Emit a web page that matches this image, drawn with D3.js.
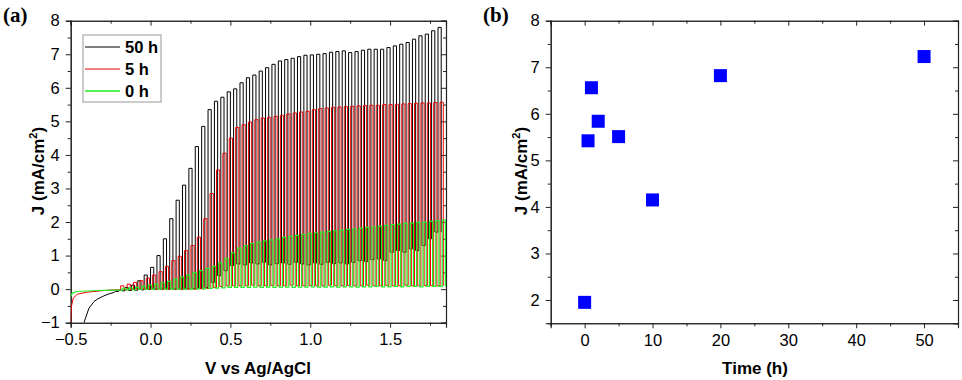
<!DOCTYPE html>
<html>
<head>
<meta charset="utf-8">
<script src="https://cdn.jsdelivr.net/npm/d3@7"></script>
<style>
  body { margin: 0; background: #fff; }
  svg { display: block; font-family: "Liberation Sans", Arial, sans-serif; }
  .tick text { font-size: 16.5px; fill: #000; }
  .domain, .tick line { stroke: #222; }
</style>
</head>
<body>
<svg id="chart" width="962" height="380"></svg>
<script>
// ---- panel (a): chopped-light J-V, values read at each chop ----
const chopV = [-0.22,-0.18,-0.14,-0.10,-0.06,-0.02,0.02,0.06,0.10,0.14,
  0.18,0.22,0.26,0.30,0.34,0.38,0.42,0.46,0.50,0.54,
  0.58,0.62,0.66,0.70,0.74,0.78,0.82,0.86,0.90,0.94,
  0.98,1.02,1.06,1.10,1.14,1.18,1.22,1.26,1.30,1.34,
  1.38,1.42,1.46,1.50,1.54,1.58,1.62,1.66,1.70,1.74,1.78];

const light50 = [-0.03,0.05,0.12,0.25,0.42,0.65,1.0,1.5,2.1,2.65,
  3.1,3.6,4.25,4.85,5.35,5.6,5.72,5.88,5.97,6.15,
  6.3,6.38,6.5,6.6,6.7,6.8,6.84,6.88,6.93,6.97,
  6.98,7.0,7.02,7.06,7.08,7.1,7.05,7.08,7.12,7.15,
  7.15,7.15,7.2,7.25,7.3,7.35,7.45,7.55,7.6,7.7,7.8];
const dark50 = [-0.07,-0.05,-0.04,-0.03,-0.02,-0.01,0,0,0,0,
  0,0.01,0.01,0.02,0.05,0.2,0.4,0.55,0.7,0.75,
  0.72,0.78,0.75,0.8,0.72,0.76,0.78,0.74,0.8,0.75,
  0.72,0.78,0.74,0.8,0.76,0.78,0.75,0.8,0.85,0.82,
  0.88,0.9,0.85,1.1,1.15,1.1,1.2,1.15,1.3,1.5,1.7];

const light5 = [0.1,0.15,0.2,0.25,0.33,0.42,0.52,0.68,0.85,0.98,
  1.15,1.3,1.55,2.1,2.85,3.55,4.05,4.5,4.82,4.9,
  4.98,5.05,5.1,5.12,5.15,5.18,5.22,5.25,5.28,5.3,
  5.35,5.38,5.4,5.42,5.43,5.44,5.45,5.46,5.47,5.48,
  5.48,5.5,5.5,5.51,5.52,5.53,5.54,5.55,5.55,5.56,5.57];
const dark5 = [-0.02,-0.01,-0.01,0,0,0,0,0,0,0,
  0,0,0,0.01,0.02,0.05,0.08,0.1,0.1,0.1,
  0.1,0.12,0.1,0.1,0.11,0.1,0.1,0.12,0.1,0.1,
  0.11,0.1,0.1,0.12,0.1,0.1,0.11,0.1,0.1,0.12,
  0.1,0.1,0.11,0.1,0.1,0.12,0.1,0.1,0.11,0.1,0.1];

const light0 = [0.02,0.04,0.06,0.09,0.12,0.15,0.19,0.23,0.3,0.36,
  0.42,0.49,0.55,0.62,0.68,0.78,0.92,1.08,1.22,1.3,
  1.36,1.4,1.44,1.47,1.5,1.54,1.57,1.6,1.63,1.66,
  1.68,1.7,1.72,1.74,1.76,1.78,1.8,1.82,1.84,1.86,
  1.88,1.9,1.92,1.94,1.96,1.97,1.99,2.0,2.02,2.04,2.06];
const dark0 = [-0.03,-0.02,-0.02,-0.01,-0.01,0,0,0,0,0,
  0,0,0.01,0.01,0.02,0.03,0.04,0.05,0.05,0.05,
  0.05,0.06,0.05,0.06,0.05,0.06,0.06,0.05,0.06,0.06,
  0.07,0.06,0.06,0.07,0.06,0.07,0.07,0.06,0.07,0.07,
  0.08,0.07,0.07,0.08,0.07,0.08,0.08,0.07,0.08,0.08,0.08];

// dark current before chopping starts
const onsetV50 = [-0.417,-0.386,-0.354,-0.334,-0.292,-0.26,-0.23];
const onsetJ50 = [-1.0,-0.57,-0.37,-0.30,-0.2,-0.14,-0.1];
const onsetV5 = [-0.5,-0.496,-0.484,-0.459,-0.396,-0.29,-0.23];
const onsetJ5 = [-1.0,-0.52,-0.27,-0.15,-0.09,-0.04,-0.02];
const onsetV0 = [-0.5,-0.49,-0.46,-0.33,-0.23];
const onsetJ0 = [-0.22,-0.12,-0.07,-0.04,-0.03];

// ---- panel (b): photocurrent vs time ----
const timeH = [0, 0.5, 1, 2, 5, 10, 20, 50];
const jTime = [1.95, 5.42, 6.56, 5.84, 5.51, 4.15, 6.82, 7.23];

const svg = d3.select('#chart');
const half = 0.02;

const xA = d3.scaleLinear().domain([-0.5, 1.85]).range([70.7, 446]);
const yA = d3.scaleLinear().domain([-1, 8]).range([322.7, 20.7]);
const xB = d3.scaleLinear().domain([-5, 55]).range([550.7, 958]);
const yB = d3.scaleLinear().domain([1.5, 8]).range([323.3, 20.7]);

// frame with Origin style ticks: out on left/bottom, in on top/right
function frame(x, y, xMajor, xMinor, yMajor, yMinor, xFmt, yFmt) {
    const [x0, x1] = x.range();
    const [y0, y1] = y.range();
    const g = svg.append('g');
    g.append('g').attr('transform', `translate(0,${y0})`)
        .call(d3.axisBottom(x).tickValues(xMajor).tickSize(5).tickPadding(6).tickFormat(xFmt));
    g.append('g').attr('transform', `translate(0,${y0})`)
        .call(d3.axisBottom(x).tickValues(xMinor).tickSize(3).tickFormat(''));
    g.append('g').attr('transform', `translate(0,${y1})`)
        .call(d3.axisTop(x).tickValues(xMajor).tickSize(-5).tickFormat(''));
    g.append('g').attr('transform', `translate(0,${y1})`)
        .call(d3.axisTop(x).tickValues(xMinor).tickSize(-3).tickFormat(''));
    g.append('g').attr('transform', `translate(${x0},0)`)
        .call(d3.axisLeft(y).tickValues(yMajor).tickSize(5).tickPadding(6).tickFormat(yFmt));
    g.append('g').attr('transform', `translate(${x0},0)`)
        .call(d3.axisLeft(y).tickValues(yMinor).tickSize(3).tickFormat(''));
    g.append('g').attr('transform', `translate(${x1},0)`)
        .call(d3.axisRight(y).tickValues(yMajor).tickSize(-5).tickFormat(''));
    g.append('g').attr('transform', `translate(${x1},0)`)
        .call(d3.axisRight(y).tickValues(yMinor).tickSize(-3).tickFormat(''));
    g.selectAll('.domain').attr('stroke-width', 1.1);
    return g;
}

frame(xA, yA,
    [-0.5, 0, 0.5, 1, 1.5], [-0.25, 0.25, 0.75, 1.25, 1.75],
    [-1, 0, 1, 2, 3, 4, 5, 6, 7, 8], [-0.5, 0.5, 1.5, 2.5, 3.5, 4.5, 5.5, 6.5, 7.5],
    d3.format('.1f'), d3.format('d'));

frame(xB, yB,
    [0, 10, 20, 30, 40, 50], [-5, 5, 15, 25, 35, 45, 55],
    [2, 3, 4, 5, 6, 7, 8], [2.5, 3.5, 4.5, 5.5, 6.5, 7.5],
    d3.format('d'), d3.format('d'));

// clip for panel (a)
svg.append('clipPath').attr('id', 'clipA').append('rect')
    .attr('x', xA.range()[0]).attr('y', yA.range()[1])
    .attr('width', xA.range()[1] - xA.range()[0])
    .attr('height', yA.range()[0] - yA.range()[1]);

function chopPoints(onV, onJ, light, dark, phase) {
    const pts = onV.map((v, i) => [v, onJ[i]]);
    chopV.forEach((v, i) => {
        const v0 = v + phase;
        pts.push([v0, dark[i]], [v0 + half, dark[i]], [v0 + half, light[i]], [v0 + 2 * half, light[i]]);
    });
    const last = chopV.length - 1;
    pts.push([chopV[last] + phase + 2 * half, dark[last]]);
    return pts;
}

const line = d3.line().x(d => xA(d[0])).y(d => yA(d[1]));
const curves = [
    { pts: chopPoints(onsetV50, onsetJ50, light50, dark50, 0), color: '#000000', w: 1 },
    { pts: chopPoints(onsetV5, onsetJ5, light5, dark5, 0.013), color: '#ee0000', w: 1 },
    { pts: chopPoints(onsetV0, onsetJ0, light0, dark0, 0.026), color: '#22ee22', w: 1.2 }
];
const gA = svg.append('g').attr('clip-path', 'url(#clipA)');
curves.forEach(c => {
    gA.append('path').attr('d', line(c.pts))
        .attr('fill', 'none').attr('stroke', c.color)
        .attr('stroke-width', c.w).attr('stroke-linejoin', 'round');
});

// legend
const leg = svg.append('g');
leg.append('rect').attr('x', 83).attr('y', 35).attr('width', 78).attr('height', 67)
    .attr('fill', '#fff').attr('stroke', '#999').attr('stroke-width', 1);
const legItems = [['50 h', '#000000'], ['5 h', '#ee0000'], ['0 h', '#22ee22']];
legItems.forEach((d, i) => {
    const yy = 47 + i * 22;
    leg.append('line').attr('x1', 85).attr('x2', 120).attr('y1', yy).attr('y2', yy)
        .attr('stroke', d[1]).attr('stroke-width', i == 2 ? 1.6 : 1.2);
    leg.append('text').attr('x', 125).attr('y', yy + 6)
        .attr('font-size', 16.5).attr('font-weight', 'bold').text(d[0]);
});

// panel (b) markers
svg.append('g').selectAll('rect').data(timeH).enter().append('rect')
    .attr('x', (d) => xB(d) - 6.5)
    .attr('y', (d, i) => yB(jTime[i]) - 6.5)
    .attr('width', 13).attr('height', 13)
    .attr('fill', '#0000ff');

// titles
function yTitle(x, y) {
    const t = svg.append('text')
        .attr('transform', `translate(${x},${y}) rotate(-90)`)
        .attr('text-anchor', 'middle').attr('font-size', 17).attr('font-weight', 'bold');
    t.append('tspan').text('J (mA/cm');
    t.append('tspan').attr('dy', -7).attr('font-size', 11).text('2');
    t.append('tspan').attr('dy', 7).text(')');
}
yTitle(44, 171);
yTitle(527, 171);

svg.append('text').attr('x', 258).attr('y', 374).attr('text-anchor', 'middle')
    .attr('font-size', 17).attr('font-weight', 'bold').text('V vs Ag/AgCl');
svg.append('text').attr('x', 755).attr('y', 374).attr('text-anchor', 'middle')
    .attr('font-size', 17).attr('font-weight', 'bold').text('Time (h)');

svg.append('text').attr('x', 3).attr('y', 22)
    .attr('font-family', '"Liberation Serif", "Times New Roman", serif')
    .attr('font-size', 21).attr('font-weight', 'bold').text('(a)');
svg.append('text').attr('x', 483).attr('y', 22)
    .attr('font-family', '"Liberation Serif", "Times New Roman", serif')
    .attr('font-size', 21).attr('font-weight', 'bold').text('(b)');
</script>
</body>
</html>
